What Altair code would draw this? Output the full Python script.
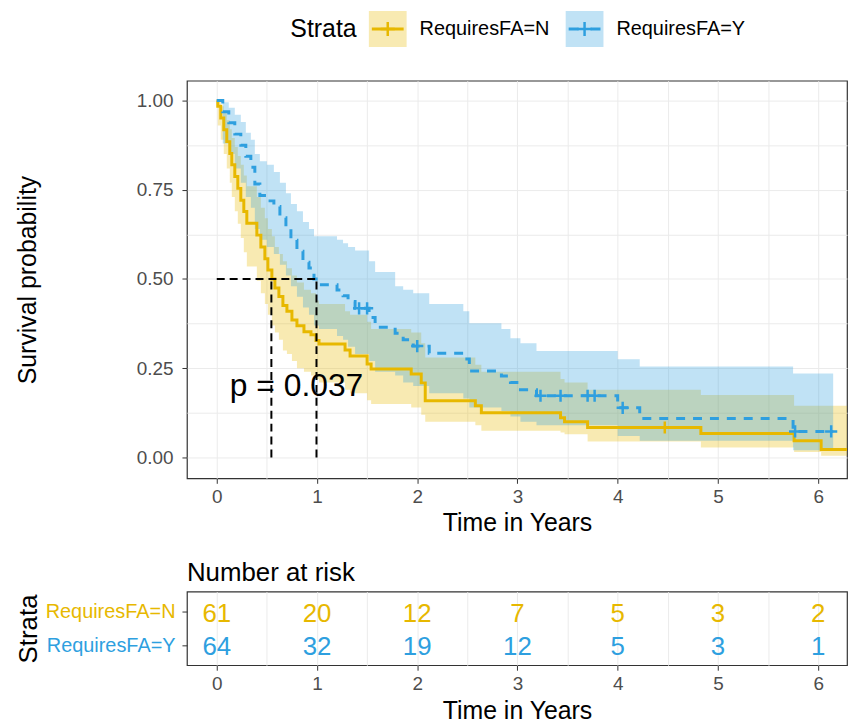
import altair as alt
import pandas as pd

FONT = "Liberation Sans"

strata = ["RequiresFA=N", "RequiresFA=Y"]
colors = ["#E7B800", "#2E9FDF"]

# --- Kaplan-Meier curve RequiresFA=N (step starts, survival, CI) ---
n_time = [0.00, 0.01, 0.04, 0.07, 0.10, 0.13, 0.15, 0.18, 0.21, 0.24, 0.27, 0.30,
          0.40, 0.44, 0.48, 0.51, 0.55, 0.58, 0.62, 0.66, 0.70, 0.75, 0.80, 0.87,
          0.94, 0.99, 1.02, 1.28, 1.33, 1.50, 1.54, 1.94, 2.04, 2.08, 2.58, 2.64,
          3.43, 3.47, 3.70, 4.83, 5.76, 6.03, 6.29]
n_surv = [1.000, 0.984, 0.951, 0.918, 0.885, 0.852, 0.820, 0.787, 0.754, 0.721, 0.689, 0.656,
          0.623, 0.590, 0.557, 0.525, 0.500, 0.475, 0.451, 0.426, 0.410, 0.385, 0.369, 0.352,
          0.344, 0.328, 0.318, 0.301, 0.284, 0.262, 0.248, 0.234, 0.209, 0.159, 0.145, 0.125,
          0.111, 0.100, 0.084, 0.067, 0.047, 0.022, 0.022]
n_lower = [1.000, 0.930, 0.890, 0.850, 0.810, 0.770, 0.730, 0.690, 0.655, 0.615, 0.575, 0.535,
           0.495, 0.460, 0.430, 0.400, 0.370, 0.350, 0.330, 0.300, 0.290, 0.270, 0.250, 0.240,
           0.230, 0.220, 0.210, 0.190, 0.180, 0.160, 0.150, 0.140, 0.120, 0.100, 0.090, 0.075,
           0.070, 0.065, 0.045, 0.028, 0.015, 0.005, 0.005]
n_upper = [1.000, 0.998, 0.984, 0.965, 0.945, 0.920, 0.895, 0.870, 0.845, 0.820, 0.790, 0.760,
           0.730, 0.700, 0.670, 0.640, 0.620, 0.590, 0.570, 0.550, 0.530, 0.510, 0.490, 0.470,
           0.460, 0.440, 0.430, 0.410, 0.400, 0.380, 0.360, 0.350, 0.320, 0.280, 0.260, 0.240,
           0.220, 0.210, 0.190, 0.175, 0.145, 0.145, 0.145]

# --- Kaplan-Meier curve RequiresFA=Y ---
y_time = [0.00, 0.06, 0.12, 0.18, 0.24, 0.29, 0.34, 0.38, 0.43, 0.50, 0.57, 0.63,
          0.69, 0.74, 0.80, 0.86, 0.92, 0.97, 1.02, 1.20, 1.26, 1.31, 1.38, 1.52,
          1.58, 1.78, 1.86, 1.96, 2.12, 2.46, 2.52, 2.84, 2.93, 3.03, 3.19, 4.00,
          4.22, 5.75, 6.15]
y_surv = [1.000, 0.969, 0.938, 0.906, 0.875, 0.844, 0.813, 0.766, 0.734, 0.719, 0.703, 0.672,
          0.641, 0.609, 0.578, 0.547, 0.531, 0.500, 0.484, 0.469, 0.453, 0.437, 0.418, 0.392,
          0.365, 0.348, 0.330, 0.312, 0.292, 0.276, 0.242, 0.228, 0.210, 0.190, 0.173, 0.139,
          0.109, 0.073, 0.073]
y_lower = [1.000, 0.880, 0.850, 0.810, 0.770, 0.730, 0.700, 0.640, 0.610, 0.590, 0.570, 0.540,
           0.510, 0.480, 0.450, 0.420, 0.400, 0.370, 0.360, 0.340, 0.330, 0.310, 0.290, 0.270,
           0.240, 0.230, 0.210, 0.200, 0.180, 0.165, 0.140, 0.130, 0.115, 0.100, 0.090, 0.060,
           0.047, 0.020, 0.020]
y_upper = [1.000, 0.995, 0.980, 0.960, 0.940, 0.910, 0.890, 0.850, 0.830, 0.820, 0.800, 0.770,
           0.740, 0.710, 0.690, 0.660, 0.640, 0.620, 0.620, 0.610, 0.600, 0.590, 0.580, 0.550,
           0.520, 0.480, 0.470, 0.460, 0.430, 0.410, 0.376, 0.360, 0.334, 0.320, 0.298, 0.275,
           0.255, 0.235, 0.235]

# censoring marks
n_censor_time = [4.47]
n_censor_surv = [0.084]
y_censor_time = [1.42, 1.50, 2.00, 3.23, 3.43, 3.70, 3.77, 4.05, 5.77, 6.13]
y_censor_surv = [0.418, 0.418, 0.312, 0.173, 0.173, 0.173, 0.173, 0.139, 0.073, 0.073]

# median survival times
median_time = [0.545, 0.995]
median_level = 0.5

# p-value annotation
p_label = "p = 0.037"
p_time = 0.13
p_surv = 0.20

# number at risk table
risk_times = [0, 1, 2, 3, 4, 5, 6]
risk_n = [61, 20, 12, 7, 5, 3, 2]
risk_y = [64, 32, 19, 12, 5, 3, 1]

# ------------------------------------------------------------------
curve_df = pd.concat([
    pd.DataFrame({"time": n_time, "surv": n_surv, "lower": n_lower, "upper": n_upper, "strata": strata[0]}),
    pd.DataFrame({"time": y_time, "surv": y_surv, "lower": y_lower, "upper": y_upper, "strata": strata[1]}),
], ignore_index=True)
censor_df = pd.concat([
    pd.DataFrame({"time": n_censor_time, "surv": n_censor_surv, "strata": strata[0]}),
    pd.DataFrame({"time": y_censor_time, "surv": y_censor_surv, "strata": strata[1]}),
], ignore_index=True)
med_v_df = pd.DataFrame({"time": median_time, "zero": 0.0, "level": median_level})
med_h_df = pd.DataFrame({"time": [0.0], "time_end": [max(median_time)], "level": [median_level]})
p_df = pd.DataFrame({"time": [p_time], "surv": [p_surv], "label": [p_label]})
risk_df = pd.concat([
    pd.DataFrame({"time": risk_times, "count": risk_n, "strata": strata[0]}),
    pd.DataFrame({"time": risk_times, "count": risk_y, "strata": strata[1]}),
], ignore_index=True)

xs = alt.Scale(domain=[-0.2975, 6.288], nice=False, zero=False)
ys = alt.Scale(domain=[-0.0585, 1.0557], nice=False, zero=False)
color = alt.Color("strata:N", scale=alt.Scale(domain=strata, range=colors), legend=None)

major_x = {"condition": {"test": "datum.value % 1 === 0", "value": 1}, "value": 0}
major_y = {"condition": {"test": "(datum.value * 4) % 1 === 0", "value": 1}, "value": 0}

x_axis = alt.Axis(values=[i * 0.5 for i in range(13)],
                  labelExpr="datum.value % 1 === 0 ? format(datum.value, 'd') : ''",
                  tickOpacity=major_x, title="Time in Years", labelFlush=False,
                  labelOverlap=False, labelPadding=4, titlePadding=4)
y_axis = alt.Axis(values=[i * 0.125 for i in range(9)],
                  labelExpr="(datum.value * 4) % 1 === 0 ? format(datum.value, '.2f') : ''",
                  tickOpacity=major_y, title="Survival probability", labelFlush=False,
                  labelOverlap=False, labelPadding=9, titlePadding=96)

X = alt.X("time:Q", scale=xs, axis=x_axis)

band = alt.Chart(curve_df).mark_area(interpolate="step-after", opacity=0.3, clip=True).encode(
    x=X, y=alt.Y("lower:Q", scale=ys, axis=y_axis), y2="upper:Q", color=color)

lines = alt.Chart(curve_df).mark_line(interpolate="step-after", strokeWidth=3, clip=True).encode(
    x=X, y=alt.Y("surv:Q", scale=ys, axis=y_axis), color=color,
    strokeDash=alt.StrokeDash("strata:N", scale=alt.Scale(domain=strata, range=[[1, 0], [9, 8]]), legend=None))

cross_path = "M-1,0H1M0,-1V1"
censors = alt.Chart(censor_df).mark_point(shape=cross_path, filled=False, size=150, strokeWidth=2.5,
                                          opacity=1).encode(
    x=X, y=alt.Y("surv:Q", scale=ys, axis=y_axis),
    stroke=alt.Stroke("strata:N", scale=alt.Scale(domain=strata, range=colors), legend=None))

med_v = alt.Chart(med_v_df).mark_rule(color="black", strokeWidth=2, strokeDash=[8, 5]).encode(
    x=X, y=alt.Y("zero:Q", scale=ys, axis=y_axis), y2="level:Q")
med_h = alt.Chart(med_h_df).mark_rule(color="black", strokeWidth=2, strokeDash=[8, 5]).encode(
    x=X, x2="time_end:Q", y=alt.Y("level:Q", scale=ys, axis=y_axis))

p_text = alt.Chart(p_df).mark_text(font=FONT, fontSize=32, align="left", baseline="middle", color="black").encode(
    x=X, y=alt.Y("surv:Q", scale=ys, axis=y_axis), text="label:N")

# ---- legend drawn above the plot area ----
legend_layers = []
legend_title = alt.Chart(pd.DataFrame({"t": ["Strata"]})).mark_text(
    font=FONT, fontSize=25, align="left", baseline="middle", color="black").encode(
    x=alt.value(104), y=alt.value(-52), text="t:N")
legend_layers.append(legend_title)
key_left = [183, 381]
for i, name in enumerate(strata):
    kd = pd.DataFrame({"strata": [name]})
    x0 = key_left[i]
    legend_layers.append(alt.Chart(kd).mark_rect(color=colors[i], opacity=0.3).encode(
        x=alt.value(x0), x2=alt.value(x0 + 38), y=alt.value(-70), y2=alt.value(-34)))
    legend_layers.append(alt.Chart(kd).mark_rule(color=colors[i], strokeWidth=3,
                                                 strokeDash=[1, 0] if i == 0 else [10, 12]).encode(
        x=alt.value(x0 + 3), x2=alt.value(x0 + 35), y=alt.value(-52)))
    legend_layers.append(alt.Chart(kd).mark_point(shape=cross_path, filled=False, size=200, strokeWidth=2.5,
                                                  color=colors[i], opacity=1).encode(
        x=alt.value(x0 + 19), y=alt.value(-52)))
    legend_layers.append(alt.Chart(kd).mark_text(font=FONT, fontSize=20, align="left", baseline="middle",
                                                 color="black").encode(
        x=alt.value(x0 + 51), y=alt.value(-52), text="strata:N"))

main = alt.layer(band, lines, censors, med_v, med_h, p_text, *legend_layers).properties(width=664, height=400)

# ---- risk table ----
label_col = {"condition": {"test": "datum.value === 'RequiresFA=N'", "value": colors[0]}, "value": colors[1]}
risk_x_axis = alt.Axis(values=[i * 0.5 for i in range(13)],
                       labelExpr="datum.value % 1 === 0 ? format(datum.value, 'd') : ''",
                       tickOpacity=major_x, title="Time in Years", labelFlush=False,
                       labelOverlap=False, labelPadding=4, titlePadding=6)
risk_y_axis = alt.Axis(title="Strata", titleFontSize=26, labelFontSize=20, labelColor=label_col,
                       labelPadding=7, titlePadding=4)

risk = alt.Chart(risk_df).mark_text(font=FONT, fontSize=26, baseline="middle", dy=2).encode(
    x=alt.X("time:Q", scale=xs, axis=risk_x_axis),
    y=alt.Y("strata:N", scale=alt.Scale(type="point", domain=strata, padding=0.6), axis=risk_y_axis),
    text="count:Q", color=color,
).properties(width=664, height=74,
             title=alt.TitleParams("Number at risk", anchor="start", frame="group", fontSize=26,
                                   font=FONT, fontWeight="normal", color="black", offset=6))

chart = alt.vconcat(main, risk, spacing=114, bounds="flush").properties(
    padding={"left": 6, "top": 0, "right": 0, "bottom": 0}
).configure_view(stroke="#333333", strokeWidth=1.2).configure_axis(
    labelFont=FONT, titleFont=FONT, labelFontSize=19, titleFontSize=25, titleFontWeight="normal",
    labelColor="#4D4D4D", titleColor="black", tickColor="#333333", tickSize=5, tickWidth=1,
    gridColor="#EBEBEB", gridWidth=1, domain=False)

chart.save("out.html", embed_options={"renderer": "svg", "actions": False})
